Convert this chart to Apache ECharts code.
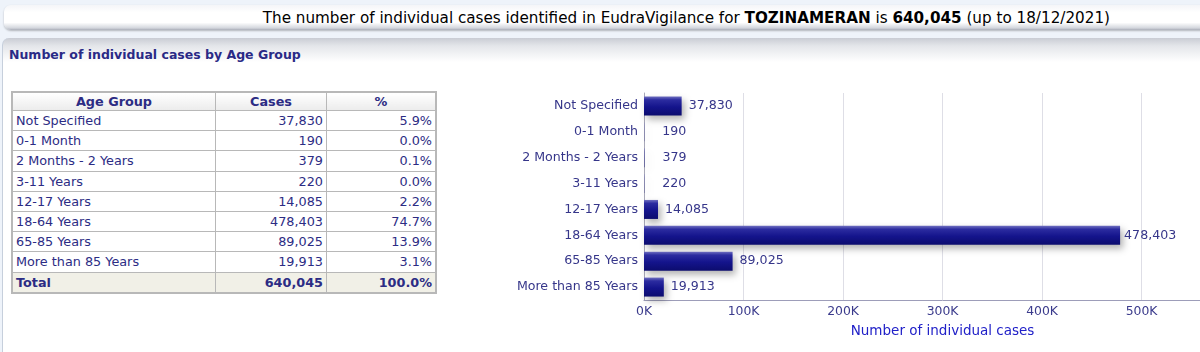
<!DOCTYPE html>
<html>
<head>
<meta charset="utf-8">
<script src="https://cdn.jsdelivr.net/npm/echarts@6/dist/echarts.min.js"></script>
<style>
    html, body { margin: 0; padding: 0; }
    body { width: 1200px; height: 352px; overflow: hidden; position: relative; background: #eef3fa; font-family: "DejaVu Sans", Verdana, sans-serif; }
    .topbar {
        position: absolute; left: 4px; top: 5px; width: 1210px; height: 25px;
        border-radius: 7px;
        background: linear-gradient(to bottom, #f4f5f8 0%, #ffffff 30%, #ffffff 70%, #d3d6dd 92%, #a9adb8 100%);
        box-shadow: 0 1px 2px rgba(0,0,0,0.25);
        font-size: 15.2px; color: #000; line-height: 25px; white-space: nowrap;
    }
    .topbar span { position: absolute; right: 104px; top: 1px; }
    .panel {
        position: absolute; left: 2px; top: 38px; width: 1220px; height: 330px;
        border-radius: 7px 0 0 0; border-left: 1px solid #c6cfdc;
        background: linear-gradient(to bottom, #c9ccd4 0px, #e4e6ea 8px, #ffffff 24px, #ffffff 100%);
    }
    .panel .title { position: absolute; left: 6px; top: 9px; font-size: 12.5px; font-weight: bold; color: #2a2a86; }
    table.grid {
        position: absolute; left: 11px; top: 91px; width: 426px;
        border-collapse: collapse; border: 2px solid #b8b8b8;
        font-size: 12.8px; color: #2c2c84;
    }
    table.grid td, table.grid th { border: 1px solid #b8b8b8; height: 19.2px; padding: 0 3px; line-height: 17px; }
    table.grid th { background: linear-gradient(to bottom, #ffffff, #ececec); font-weight: bold; text-align: center; height: 17px; }
    table.grid td.num { text-align: right; }
    table.grid tr.total td { background: #f1f0e7; font-weight: bold; }
    #chart { position: absolute; left: 480px; top: 0; width: 780px; height: 352px; }
</style>
</head>
<body>
<div class="topbar"><span>The number of individual cases identified in EudraVigilance for <b>TOZINAMERAN</b> is <b>640,045</b> (up to 18/12/2021)</span></div>
<div class="panel"><div class="title">Number of individual cases by Age Group</div></div>
<table class="grid" id="tbl"></table>
<div id="chart"></div>

<script>
// 数据
const ageGroups = ['Not Specified', '0-1 Month', '2 Months - 2 Years', '3-11 Years', '12-17 Years', '18-64 Years', '65-85 Years', 'More than 85 Years']
const cases = [37830, 190, 379, 220, 14085, 478403, 89025, 19913]
const percents = ['5.9%', '0.0%', '0.1%', '0.0%', '2.2%', '74.7%', '13.9%', '3.1%']
const totalCases = 640045
const totalPercent = '100.0%'
const xTicks = [0, 100000, 200000, 300000, 400000, 500000, 600000]

function fmt(n) {
    return n.toLocaleString('en-US')
}

// 表格
let html = '<tr><th style="width:196px">Age Group</th><th style="width:104px">Cases</th><th>%</th></tr>'
for (let i = 0; i < ageGroups.length; i++) {
    html += '<tr><td>' + ageGroups[i] + '</td><td class="num">' + fmt(cases[i]) + '</td><td class="num">' + percents[i] + '</td></tr>'
}
html += '<tr class="total"><td>Total</td><td class="num">' + fmt(totalCases) + '</td><td class="num">' + totalPercent + '</td></tr>'
document.getElementById('tbl').innerHTML = html

// 图表
let myChart = echarts.init(document.getElementById('chart'))

// very small bars get their label pushed a bit further out, like the original
let barData = cases.map(v => ({
    value: v,
    label: { distance: v < 1000 ? 18 : (v > 400000 ? 4 : 7) }
}))

let option = {
    animation: false,
    textStyle: { fontFamily: 'DejaVu Sans' },
    grid: { left: 164, top: 93, width: 602, height: 207 },
    xAxis: {
        type: 'value',
        min: xTicks[0],
        max: xTicks[xTicks.length - 1],
        interval: xTicks[1] - xTicks[0],
        name: 'Number of individual cases',
        nameLocation: 'middle',
        nameGap: 24,
        nameTextStyle: { color: '#2121c8', fontSize: 13.5 },
        axisLine: { show: true, lineStyle: { color: '#9d9db9', width: 1 } },
        axisTick: { show: false },
        axisLabel: { color: '#3b3b8c', fontSize: 12.4, margin: 6, formatter: v => (v / 1000) + 'K' },
        splitLine: { show: true, lineStyle: { color: '#dedee6' } }
    },
    yAxis: {
        type: 'category',
        data: ageGroups,
        inverse: true,
        axisLine: { show: true, lineStyle: { color: '#a8a8b8' } },
        axisTick: { show: false },
        axisLabel: { color: '#36368a', fontSize: 12.6, margin: 6 }
    },
    series: [
        {
            type: 'bar',
            data: barData,
            barWidth: 19,
            itemStyle: {
                color: new echarts.graphic.LinearGradient(0, 0, 0, 1, [
                    { offset: 0, color: '#6f6fc0' },
                    { offset: 0.18, color: '#2c2ca0' },
                    { offset: 0.55, color: '#14148c' },
                    { offset: 1, color: '#0c0c6e' }
                ]),
                shadowColor: 'rgba(0,0,0,0.3)',
                shadowBlur: 7,
                shadowOffsetX: 3,
                shadowOffsetY: 4
            },
            label: {
                show: true,
                position: 'right',
                color: '#36368a',
                fontSize: 12.6,
                formatter: p => fmt(p.value)
            }
        }
    ]
}
myChart.setOption(option)
</script>
</body>
</html>
